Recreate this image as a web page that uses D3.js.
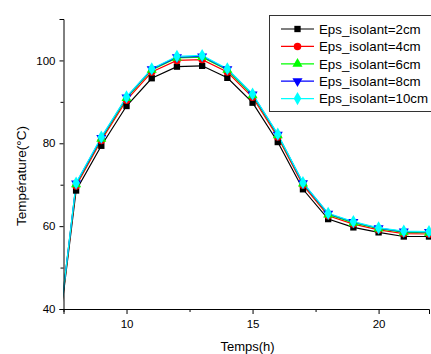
<!DOCTYPE html>
<html>
<head>
<meta charset="utf-8">
<script src="https://cdn.jsdelivr.net/npm/d3@7"></script>
<style>
  html, body { margin: 0; padding: 0; background: #fff; }
  svg { display: block; font-family: Arial, "Liberation Sans", sans-serif; }
</style>
</head>
<body>
<svg id="chart" width="431" height="354"></svg>
<script>
// Hour of day
const hours = [7, 8, 9, 10, 11, 12, 13, 14, 15, 16, 17, 18, 19, 20, 21, 22];

// Temperature (°C) for each insulation thickness
const eps2cm  = [19, 68.6, 79.4, 89.0, 95.7, 98.5, 98.7, 95.8, 89.8, 80.3, 68.9, 61.7, 59.7, 58.5, 57.5, 57.5];
const eps4cm  = [19, 69.7, 80.7, 90.4, 97.2, 100.0, 100.2, 97.2, 91.1, 81.5, 69.9, 62.5, 60.5, 59.1, 58.2, 58.1];
const eps6cm  = [19, 70.1, 81.1, 90.9, 97.7, 100.6, 100.8, 97.7, 91.6, 81.9, 70.3, 62.8, 60.8, 59.4, 58.5, 58.4];
const eps8cm  = [19, 70.3, 81.3, 91.1, 97.9, 100.8, 101.0, 97.9, 91.8, 82.1, 70.4, 63.0, 61.0, 59.5, 58.7, 58.6];
const eps10cm = [19, 70.4, 81.5, 91.2, 98.0, 101.0, 101.2, 98.0, 91.9, 82.2, 70.5, 63.1, 61.1, 59.6, 58.8, 58.7];

const seriesNames = ["Eps_isolant=2cm", "Eps_isolant=4cm", "Eps_isolant=6cm", "Eps_isolant=8cm", "Eps_isolant=10cm"];

// Axis ticks
const xMajorTicks = [10, 15, 20];
const xMinorTicks = [7.5, 12.5, 17.5];
const yMajorTicks = [40, 60, 80, 100];
const yMinorTicks = [50, 70, 90, 110];

const colors  = ["#000000", "#ff0000", "#00ff00", "#0000ff", "#00ffff"];
const symbols = [d3.symbolSquare, d3.symbolCircle, d3.symbolTriangle, "triDown", d3.symbolDiamond];
const sizes   = [40, 44, 44, 44, 50];

const series = [eps2cm, eps4cm, eps6cm, eps8cm, eps10cm].map((vals, i) => ({
  name: seriesNames[i],
  color: colors[i],
  symbol: symbols[i],
  size: sizes[i],
  points: hours.map((h, j) => ({ x: h, y: vals[j] }))
}));

const svg = d3.select("#chart");
const plot = { left: 63.5, right: 429, top: 19, bottom: 309 };

const x = d3.scaleLinear().domain([7.5, 22]).range([plot.left, plot.right]);
const y = d3.scaleLinear().domain([40, 110]).range([plot.bottom, plot.top]);

svg.append("defs").append("clipPath").attr("id", "plotClip")
  .append("rect")
  .attr("x", plot.left).attr("y", plot.top)
  .attr("width", plot.right - plot.left).attr("height", plot.bottom - plot.top);

// Downward triangle
const triDown = {
  draw(ctx, size) {
    const s = Math.sqrt(size / (Math.sqrt(3) / 4));
    const h = s * Math.sqrt(3) / 2;
    ctx.moveTo(-s / 2, -h / 3);
    ctx.lineTo(s / 2, -h / 3);
    ctx.lineTo(0, 2 * h / 3);
    ctx.closePath();
  }
};
const symbolPath = (sym, size) =>
  d3.symbol().type(sym === "triDown" ? triDown : sym).size(size)();

// Lines
const line = d3.line().x(d => x(d.x)).y(d => y(d.y));
const linesG = svg.append("g").attr("clip-path", "url(#plotClip)");
series.forEach(s => {
  linesG.append("path")
    .datum(s.points)
    .attr("fill", "none")
    .attr("stroke", s.color)
    .attr("stroke-width", 1.2)
    .attr("d", line);
});

// Markers (points inside the visible hour range)
series.forEach(s => {
  svg.append("g")
    .selectAll("path")
    .data(s.points.filter(p => p.x >= 7.5))
    .join("path")
    .attr("transform", d => `translate(${x(d.x)},${y(d.y)})`)
    .attr("d", symbolPath(s.symbol, s.size))
    .attr("fill", s.color);
});

// Axes
const styleAxis = g => {
  g.select(".domain").attr("stroke", "#000").attr("stroke-width", 1);
  g.selectAll(".tick line").attr("stroke", "#000");
  g.selectAll(".tick text").attr("fill", "#000").style("font-size", "11.5px")
    .style("font-family", "Arial, 'Liberation Sans', sans-serif");
};

const xAxisG = svg.append("g").attr("transform", `translate(0,${plot.bottom})`);
xAxisG.call(d3.axisBottom(x).tickValues(xMajorTicks).tickSize(5).tickPadding(6).tickFormat(d3.format("d")))
  .call(styleAxis);
svg.append("g").attr("transform", `translate(0,${plot.bottom})`)
  .call(d3.axisBottom(x).tickValues(xMinorTicks).tickSize(3).tickFormat(""))
  .call(g => g.select(".domain").remove())
  .call(g => g.selectAll(".tick line").attr("stroke", "#000"));

const yAxisG = svg.append("g").attr("transform", `translate(${plot.left},0)`);
yAxisG.call(d3.axisLeft(y).tickValues(yMajorTicks).tickSize(4).tickPadding(4).tickFormat(d3.format("d")))
  .call(styleAxis);
svg.append("g").attr("transform", `translate(${plot.left},0)`)
  .call(d3.axisLeft(y).tickValues(yMinorTicks).tickSize(3).tickFormat(""))
  .call(g => g.select(".domain").remove())
  .call(g => g.selectAll(".tick line").attr("stroke", "#000"));

// Axis titles
svg.append("text")
  .attr("x", x(15) - 5).attr("y", 351)
  .attr("text-anchor", "middle")
  .style("font-size", "13px")
  .text("Temps(h)");

svg.append("text")
  .attr("transform", `translate(26,${176}) rotate(-90)`)
  .attr("text-anchor", "middle")
  .style("font-size", "13.5px")
  .text("Température(°C)");

// Legend
const legend = svg.append("g");
legend.append("rect")
  .attr("x", 269.5).attr("y", 15.5)
  .attr("width", 170).attr("height", 96)
  .attr("fill", "#fff")
  .attr("stroke", "#333").attr("stroke-width", 1);

series.forEach((s, i) => {
  const ly = 29 + i * 17.4;
  const row = legend.append("g");
  row.append("line")
    .attr("x1", 281).attr("x2", 314)
    .attr("y1", ly).attr("y2", ly)
    .attr("stroke", s.color).attr("stroke-width", 1.2);
  row.append("path")
    .attr("transform", `translate(297.5,${ly})`)
    .attr("d", symbolPath(s.symbol, s.size))
    .attr("fill", s.color);
  row.append("text")
    .attr("x", 319).attr("y", ly + 4.7)
    .style("font-size", "13.3px")
    .text(s.name);
});
</script>
</body>
</html>
